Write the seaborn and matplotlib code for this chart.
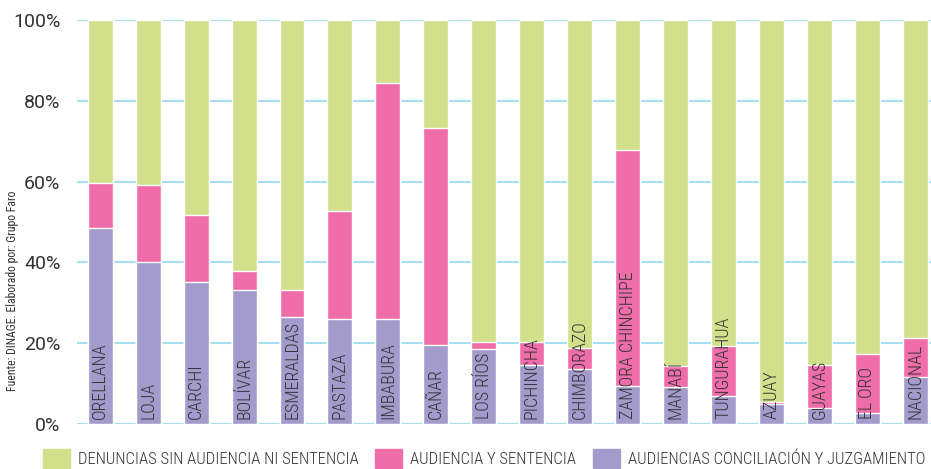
import pandas as pd
import numpy as np
import matplotlib.pyplot as plt
import seaborn as sns
from matplotlib.patches import Patch

# ============================================================
# DATOS (en %)
# ============================================================

provincias = ['ORELLANA', 'LOJA', 'CARCHI', 'BOLÍVAR', 'ESMERALDAS', 'PASTAZA',
              'IMBABURA', 'CAÑAR', 'LOS RÍOS', 'PICHINCHA', 'CHIMBORAZO',
              'ZAMORA CHINCHIPE', 'MANABÍ', 'TUNGURAHUA', 'AZUAY', 'GUAYAS',
              'EL ORO', 'NACIONAL']
conciliacion = [48.5, 40.1, 35.1, 33.2, 26.5, 26.0, 26.0, 19.6, 18.6, 14.6,
                13.6, 9.5, 9.2, 6.9, 5.0, 4.0, 2.6, 11.6]
sentencia = [11.2, 19.1, 16.6, 4.7, 6.7, 26.7, 58.4, 53.7, 1.8, 5.8,
             5.3, 58.3, 5.2, 12.5, 0.5, 10.7, 14.8, 9.8]
sin_audiencia = [100 - a - b for a, b in zip(conciliacion, sentencia)]

etiquetas_y = ['0%', '20%', '40%', '60%', '80%', '100%']

COR_VERDE = '#d3e08b'
COR_ROSA = '#ef6da8'
COR_LILA = '#a39bcc'
COR_GRID = '#a8def2'
COR_TEXTO = '#333333'
FONTE = 'Roboto Condensed'

df = pd.DataFrame({
    'Provincia': provincias,
    'conc': conciliacion,
    'conc_sent': [a + b for a, b in zip(conciliacion, sentencia)],
    'total': [a + b + c for a, b, c in zip(conciliacion, sentencia, sin_audiencia)],
})

sns.set_style('white')
plt.rcParams['font.family'] = [FONTE, 'DejaVu Sans']

fig = plt.figure(figsize=(9.31, 4.69), dpi=100)
ax = fig.add_axes([0.083, 0.096, 0.917, 0.861])

for y in range(0, 101, 20):
    ax.axhline(y, color=COR_GRID, lw=1.5, zorder=0)

sns.barplot(data=df, x='Provincia', y='total', color=COR_VERDE, width=0.52,
            saturation=1, ax=ax, zorder=2)
sns.barplot(data=df, x='Provincia', y='conc_sent', color=COR_ROSA, width=0.52,
            saturation=1, ax=ax, zorder=3)
sns.barplot(data=df, x='Provincia', y='conc', color=COR_LILA, width=0.52,
            saturation=1, ax=ax, zorder=4)

for i, nome in enumerate(provincias):
    ax.text(i, 1.3, nome, rotation=90, ha='center', va='bottom',
            fontsize=13, fontweight='light', color=COR_TEXTO, zorder=5)

ax.set_xlim(-0.48, 17.33)
ax.set_ylim(0, 100)
ax.set_xticks([])
ax.set_yticks(range(0, 101, 20))
ax.set_yticklabels(etiquetas_y, fontsize=14, color=COR_TEXTO, family='Roboto')
ax.tick_params(axis='y', length=0, pad=12)
ax.set_xlabel('')
ax.set_ylabel('')
for s in ax.spines.values():
    s.set_visible(False)

fig.text(0.013, 0.38, 'Fuente: DINAGE. Elaborado por: Grupo Faro', rotation=90,
         ha='center', va='center', fontsize=8.5, color=COR_TEXTO)

handles = [Patch(color=COR_VERDE, label='DENUNCIAS SIN AUDIENCIA NI SENTENCIA'),
           Patch(color=COR_ROSA, label='AUDIENCIA Y SENTENCIA'),
           Patch(color=COR_LILA, label='AUDIENCIAS CONCILIACIÓN Y JUZGAMIENTO')]
leg = fig.legend(handles=handles, ncol=3, loc='lower left',
                 bbox_to_anchor=(0.03, -0.03), frameon=False,
                 prop={'family': FONTE, 'size': 12, 'weight': 'light'},
                 handlelength=1.6, handleheight=1.4, handletextpad=0.5,
                 columnspacing=1.0)
for t in leg.get_texts():
    t.set_color(COR_TEXTO)

fig.savefig('out.png', dpi=100)
